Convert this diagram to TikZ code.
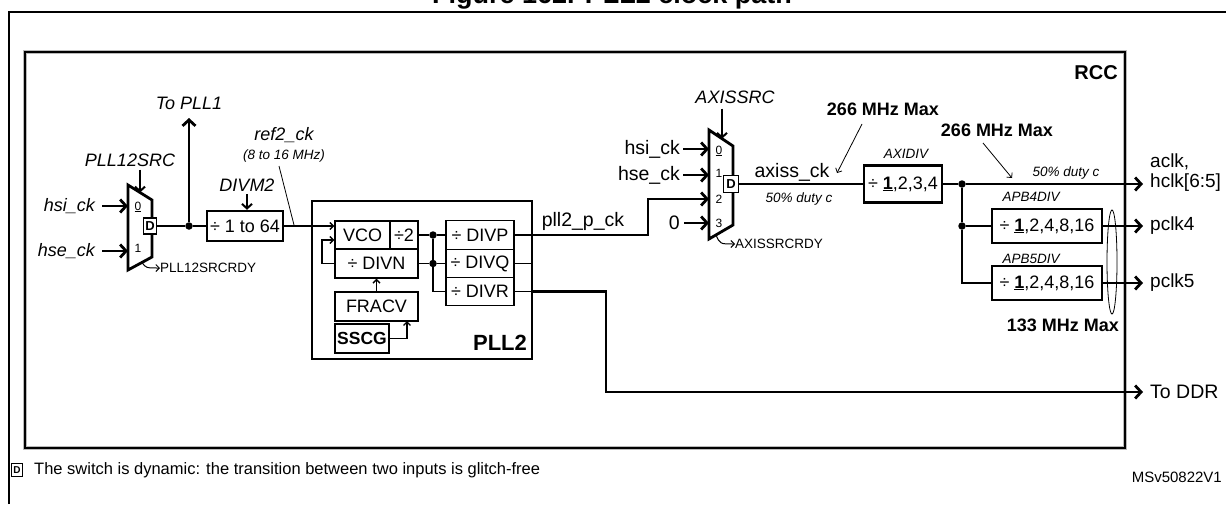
\documentclass[tikz,border=0pt]{standalone}
\usepackage{fontspec}
\setmainfont{Liberation Sans}
\usetikzlibrary{arrows.meta}
\newcommand{\fmain}{\fontsize{18}{20}\selectfont}
\newcommand{\fup}{\fontsize{19.5}{21}\selectfont}
\newcommand{\fsmall}{\fontsize{13.5}{15}\selectfont}
\newcommand{\fbig}{\fontsize{18}{20}\selectfont}
\begin{document}
\begin{tikzpicture}[x=1pt,y=-1pt,
  thk/.style={line width=2.8pt},
  thn/.style={line width=1.3pt},
  ptr/.style={line width=0.8pt},
  arr/.style={-{Straight Barb[length=6pt,width=13pt]}},
  sel/.style={line width=2pt,-{Straight Barb[length=4.5pt,width=10pt]}},
  sarr/.style={-{Straight Barb[length=3.5pt,width=7pt]}},
  mux/.style={line width=2.8pt,line join=miter},
  txt/.style={inner sep=0pt,font=\fup},
  itxt/.style={inner sep=0pt,font=\fmain\itshape},
  stxt/.style={inner sep=0pt,font=\fsmall},
  sitxt/.style={inner sep=0pt,font=\fsmall\itshape},
  btxt/.style={inner sep=0pt,font=\fbig\bfseries},
  num/.style={inner sep=0pt,font=\fontsize{12}{13}\selectfont},
  bigbox/.style={draw,line width=2.5pt,inner sep=0pt,font=\fmain},
  smbox/.style={draw,line width=1.4pt,inner sep=0pt,font=\fmain},
  dbox/.style={draw,line width=1.8pt,fill=white,inner sep=0pt,minimum width=13pt,minimum height=16pt,font=\fontsize{13}{14}\selectfont\bfseries},
  dot/.style={circle,fill,inner sep=0pt,minimum size=7.5pt}
]
\useasboundingbox (0,0) rectangle (1226,504);
% title (cut at top, as in the reference)
\node[anchor=base,inner sep=0pt,font=\fontsize{27}{29}\selectfont\bfseries] (title) at (612,3) {Figure 162. PLL2 clock path};
% outer frame
\draw[line width=2.2pt] (9,504) -- (9,12) -- (1226,12);
% RCC frame
\draw[gray!55,line width=3.6pt] (25,52) rectangle (1125,448);
\draw[line width=1.5pt] (25,52) rectangle (1125,448);
\node[inner sep=0pt,font=\fontsize{20}{22}\selectfont\bfseries,anchor=east] (rcc) at (1118,73) {RCC};

% ---------- PLL12SRC mux ----------
\draw[mux] (128,185) -- (152,200) -- (152,257) -- (128,270) -- cycle;
\coordinate (m1i0) at (128,206);
\coordinate (m1i1) at (128,251);
\coordinate (m1s) at (140,192.5);
\coordinate (m1r) at (142,262.5);
\node[num] (m1n0) at (138,207) {\underline{0}};
\node[num] (m1n1) at (138,248) {1};
\node[dbox] (m1d) at (150,226) {D};
\node[itxt,anchor=east] (hsi1) at (95,206) {hsi\_ck};
\node[itxt,anchor=east] (hse1) at (95,251) {hse\_ck};
\draw[thk,arr] ([xshift=7pt]hsi1.east) -- (m1i0);
\draw[thk,arr] ([xshift=7pt]hse1.east) -- (m1i1);
\node[itxt] (src1) at (130,160) {PLL12SRC};
\draw[sel] (src1.south -| m1s) ++(0,3) -- (m1s);
\node[stxt,anchor=west] (rdy1) at (160,268) {PLL12SRCRDY};
\draw[line width=1pt,sarr] (m1r) .. controls (146,268) .. (rdy1.west);

% junction and To PLL1
\node[dot] (dot1) at (189,226) {};
\node[itxt] (topll1) at (189,103) {To PLL1};
\coordinate (pll1c) at (189,118);
\draw[thk] (m1d.east) -- (dot1);
\draw[thk,arr] (dot1) -- (pll1c);

% DIVM2
\node[bigbox,minimum width=76pt,minimum height=30pt] (divm) at (245,226) {÷ 1 to 64};
\draw[thk] (dot1) -- (divm.west);
\node[itxt] (divm2l) at (247,185) {DIVM2};
\draw[sel] ([yshift=-3pt]divm2l.south) -- (divm2l.south |- divm.north);

% ref2_ck
\node[itxt] (ref2) at (284,135) {ref2\_ck};
\node[sitxt] (ref2f) at (284,156) {(8 to 16 MHz)};
\coordinate (ref2a) at (279,166);
\coordinate (ref2b) at (294,225);
\draw[ptr] (ref2a) -- (ref2b);

% ---------- PLL2 ----------
\node[draw,line width=2.6pt,minimum width=220pt,minimum height=158pt,inner sep=0pt] (pll2) at (422,280) {};
\node[inner sep=0pt,font=\fontsize{22}{24}\selectfont\bfseries] (pll2t) at (500,343) {PLL2};
\coordinate (pllin) at (312,226);
\draw[thk] (divm.east) -- (pllin);

\node[smbox,minimum width=55pt,minimum height=28pt] (vco) at (362.5,235) {VCO};
\node[smbox,minimum width=28pt,minimum height=28pt] (div2) at (404,235) {÷2};
\node[smbox,minimum width=83pt,minimum height=29pt] (divn) at (376.5,263.5) {÷ DIVN};
\node[smbox,minimum width=83pt,minimum height=29pt] (fracv) at (376.5,306.5) {FRACV};
\node[smbox,minimum width=54pt,minimum height=29pt,font=\fontsize{17.5}{19}\selectfont\bfseries] (sscg) at (362,338.5) {SSCG};

\draw[thn,sarr] (pllin) -- (vco.west |- pllin);
\coordinate (fb) at (322,240);
\draw[thn,sarr] (divn.west) -| (fb) -- (fb -| vco.west);
\draw[thn,sarr] (fracv.north) -- (divn.south);
\coordinate (sb) at (407,321);
\draw[thn,sarr] (sscg.east) -| (sb);

\node[smbox,minimum width=68pt,minimum height=29pt] (divp) at (480,235) {÷ DIVP};
\node[smbox,minimum width=68pt,minimum height=28pt] (divq) at (480,263.5) {÷ DIVQ};
\node[smbox,minimum width=68pt,minimum height=28pt] (divr) at (480,291.5) {÷ DIVR};
\node[dot] (dotp) at (433,235) {};
\node[dot] (dotq) at (433,263.5) {};
\draw[thn] (div2.east) -- (dotp) -- (divp.west);
\draw[thn] (divn.east) -- (dotq) -- (divq.west);
\draw[thn] (dotp) -- (dotq) -- (dotq |- divr.west) -- (divr.west);

\coordinate (pllp) at (532,235);
\coordinate (pllr) at (532,291.5);
\draw[thn] (divp.east) -- (pllp);
\draw[thn] (divq.east) -- (divq.east -| pll2.east);
\draw[thn] (divr.east) -- (pllr);
\node[txt] (pllpck) at (583,221) {pll2\_p\_ck};

% ---------- AXISSRC mux ----------
\draw[mux] (709,130) -- (733,146) -- (733,225) -- (709,239) -- cycle;
\coordinate (m2i0) at (709,149);
\coordinate (m2i1) at (709,175);
\coordinate (m2i2) at (709,199);
\coordinate (m2i3) at (709,223);
\coordinate (m2s) at (722,138.7);
\coordinate (m2r) at (716,235);
\node[num] (m2n0) at (719,151) {\underline{0}};
\node[num] (m2n1) at (719,173) {1};
\node[num] (m2n2) at (719,199) {2};
\node[num] (m2n3) at (719,223) {3};
\node[dbox,minimum width=15pt,minimum height=17pt] (m2d) at (731,184) {D};

\node[txt,anchor=east] (hsi2) at (680,149) {hsi\_ck};
\node[txt,anchor=east] (hse2) at (680,175) {hse\_ck};
\node[txt,anchor=east] (zero) at (680,223) {0};
\draw[thk,arr] ([xshift=3pt]hsi2.east) -- (m2i0);
\draw[thk,arr] ([xshift=3pt]hse2.east) -- (m2i1);
\draw[thk,arr] ([xshift=4pt]zero.east) -- (m2i3);
\coordinate (pbend) at (648,199);
\draw[thk,arr] (pllp) -| (pbend) -- (m2i2);
\coordinate (cddr) at (606,392);
\node[txt,anchor=west] (toddr) at (1150,392) {To DDR};
\draw[thk,arr] (pllr) -| (cddr) -- ([xshift=-7pt]toddr.west);

\node[itxt] (axsrc) at (735,97) {AXISSRC};
\draw[sel] (m2s |- axsrc.south) ++(0,5) -- (m2s);
\node[stxt,anchor=west] (rdy2) at (735,244) {AXISSRCRDY};
\draw[line width=1pt,sarr] (m2r) .. controls (720,244) .. (rdy2.west);

\node[txt] (axissck) at (792,172) {axiss\_ck};
\node[sitxt] (duty1) at (799,199) {50\% duty c};

% ---------- AXIDIV ----------
\node[bigbox,minimum width=78pt,minimum height=37pt] (axidiv) at (903,184) {÷ \textbf{\underline{1}},2,3,4};
\node[sitxt] (axidivl) at (906,154) {AXIDIV};
\draw[thk] (m2d.east) -- (axidiv.west);

\node[btxt] (max1) at (883,109) {266 MHz Max};
\coordinate (max1a) at (862,124);
\coordinate (max1b) at (837,173);
\draw[ptr,sarr] (max1a) -- (max1b);
\node[btxt] (max2) at (997,130) {266 MHz Max};
\coordinate (max2a) at (983,143);
\coordinate (max2b) at (1012,178);
\draw[ptr,sarr] (max2a) -- (max2b);
\node[sitxt] (duty2) at (1066,173) {50\% duty c};

% ---------- APB ----------
\node[bigbox,minimum width=110pt,minimum height=34pt] (apb4) at (1047,226) {÷ \textbf{\underline{1}},2,4,8,16};
\node[bigbox,minimum width=110pt,minimum height=34pt] (apb5) at (1047,283) {÷ \textbf{\underline{1}},2,4,8,16};
\node[sitxt] (apb4l) at (1031,197) {APB4DIV};
\node[sitxt] (apb5l) at (1031,259) {APB5DIV};

\node[dot] (dot3) at (962,184) {};
\node[dot] (dot4) at (962,226) {};
\node[txt,anchor=west,align=left,font=\fontsize{19}{20}\selectfont] (aclk) at (1150,173) {aclk,\\hclk[6:5]};
\node[txt,anchor=west,font=\fontsize{19}{20}\selectfont] (pclk4) at (1150,226) {pclk4};
\node[txt,anchor=west,font=\fontsize{19}{20}\selectfont] (pclk5) at (1150,283) {pclk5};
\coordinate (aclko) at (1143,184);
\draw[thk] (axidiv.east) -- (dot3);
\draw[thk,arr] (dot3) -- (aclko);
\draw[thk] (dot3) -- (dot4);
\draw[thk] (dot4) |- (apb5.west);
\draw[thk] (dot4) -- (apb4.west);
\draw[thk,arr] (apb4.east) -- ([xshift=-7pt]pclk4.west);
\draw[thk,arr] (apb5.east) -- ([xshift=-7pt]pclk5.west);

\draw[ptr] (1112,262) ellipse [x radius=5pt, y radius=52pt];
\node[btxt,anchor=east] (max3) at (1119,325) {133 MHz Max};

% ---------- legend ----------
\node[draw,line width=1pt,inner sep=0pt,minimum width=11pt,minimum height=13pt,font=\fontsize{10}{11}\selectfont\bfseries] (legd) at (17,470) {D};
\node[inner sep=0pt,anchor=west,font=\fontsize{16.5}{18}\selectfont] (legt) at (34,470) {The switch is dynamic: the transition between two inputs is glitch-free};
\node[inner sep=0pt,anchor=east,font=\fontsize{15}{16}\selectfont] (msv) at (1222,477) {MSv50822V1};
\end{tikzpicture}
\end{document}
